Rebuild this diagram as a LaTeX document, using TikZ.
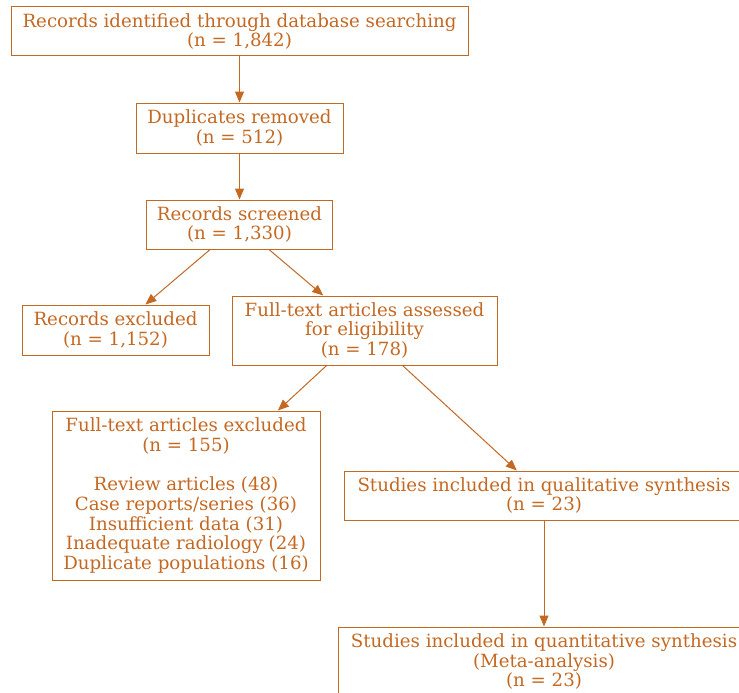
\documentclass[tikz,border=0pt]{standalone}
\usepackage{fontspec}
\setmainfont{DejaVu Serif}
\usetikzlibrary{arrows.meta}
\definecolor{prisma}{RGB}{196,104,34}
\begin{document}
\begin{tikzpicture}[x=1pt,y=-1pt,
  box/.style={draw=prisma, line width=1pt, text=prisma, align=center, inner sep=0pt,
    font=\fontsize{18.2}{19.7}\selectfont},
  arr/.style={draw=prisma, line width=1pt, -{Triangle[length=11pt,width=9pt]}}]
\useasboundingbox (0,0) rectangle (739,693);
\clip (0,0) rectangle (739,693);
\node[box, minimum width=457pt, minimum height=49pt] (ident) at (239.5,31.5)
  {Records identified through database searching\\(n = 1,842)};
\node[box, minimum width=207pt, minimum height=50pt] (dup) at (239.5,128)
  {Duplicates removed\\(n = 512)};
\node[box, minimum width=186pt, minimum height=49pt] (screen) at (239.5,224.5)
  {Records screened\\(n = 1,330)};
\node[box, minimum width=187pt, minimum height=50pt] (recex) at (115.5,330)
  {Records excluded\\(n = 1,152)};
\node[box, minimum width=265pt, minimum height=69pt] (full) at (364.5,330.5)
  {Full-text articles assessed\\for eligibility\\(n = 178)};
\node[box, minimum width=268pt, minimum height=169pt] (fullex) at (186,495.5)
  {Full-text articles excluded\\(n = 155)\\[19.7pt]Review articles (48)\\Case reports/series (36)\\Insufficient data (31)\\Inadequate radiology (24)\\Duplicate populations (16)};
\node[box, minimum width=400pt, minimum height=49pt] (qual) at (544,495.5)
  {Studies included in qualitative synthesis\\(n = 23)};
\node[box, minimum width=412pt, minimum height=69pt] (quant) at (544,661.5)
  {Studies included in quantitative synthesis\\(Meta-analysis)\\(n = 23)};
\draw[arr] (ident) -- (dup);
\draw[arr] (dup) -- (screen);
\draw[arr] (screen) -- (recex);
\draw[arr] (screen) -- (full);
\draw[arr] (full) -- (fullex);
\draw[arr] (full) -- (qual);
\draw[arr] (qual) -- (quant);
\end{tikzpicture}
\end{document}
